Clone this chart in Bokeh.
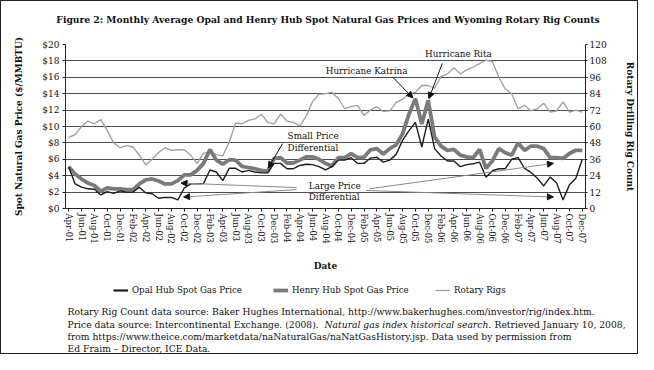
from bokeh.plotting import figure
from bokeh.layouts import column
from bokeh.models import (Range1d, LinearAxis, FixedTicker, Legend, LegendItem,
                          Label, Arrow, NormalHead, PrintfTickFormatter, ColumnDataSource)
from bokeh.embed import file_html
from bokeh.resources import INLINE

# ---------------- data ----------------
month_names = ["Jan", "Feb", "Mar", "Apr", "May", "Jun", "Jul", "Aug", "Sep", "Oct", "Nov", "Dec"]
months = [f"{month_names[m]}-{y:02d}" for y in range(1, 8) for m in range(12) if not (y == 1 and m < 3)]

opal = [5.1, 3.0, 2.6, 2.4, 2.35, 1.65, 2.05, 1.85, 2.15, 2.0, 2.0, 2.6,
        1.9, 1.8, 1.25, 1.35, 1.35, 1.05, 2.5, 3.0, 3.0, 3.05, 4.7, 4.45,
        3.4, 4.9, 4.9, 4.45, 4.65, 4.45, 4.35, 4.35, 5.5, 5.5, 4.85, 4.85,
        5.25, 5.4, 5.35, 5.1, 4.7, 5.1, 5.9, 5.9, 6.2, 5.5, 5.5, 6.15,
        6.25, 5.65, 5.9, 6.6, 8.3, 9.5, 10.5, 7.5, 10.9, 7.3, 6.4, 5.8,
        5.8, 5.1, 5.35, 5.45, 5.65, 3.8, 4.6, 4.85, 4.85, 6.0, 6.2, 4.9,
        4.4, 3.7, 2.75, 3.85, 3.1, 1.05, 2.9, 3.7, 6.0]

henry = [5.1, 4.2, 3.6, 3.1, 2.8, 2.1, 2.5, 2.4, 2.4, 2.3, 2.3, 3.0,
         3.5, 3.6, 3.35, 3.0, 3.0, 3.4, 4.1, 4.1, 4.65, 5.5, 7.2, 5.9,
         5.4, 5.95, 5.9, 5.15, 5.0, 4.85, 4.65, 4.55, 6.1, 6.2, 5.55, 5.55,
         5.9, 6.3, 6.3, 6.0, 5.5, 5.2, 6.2, 6.2, 6.7, 6.2, 6.25, 7.15,
         7.3, 6.65, 7.3, 7.75, 9.1, 11.5, 13.4, 10.3, 13.2, 8.7, 7.6, 7.1,
         7.2, 6.5, 6.3, 6.2, 7.2, 4.9, 5.8, 7.3, 6.8, 6.5, 8.0, 7.1,
         7.6, 7.6, 7.3, 6.2, 6.2, 6.1, 6.7, 7.1, 7.1]

rigs = [52, 54, 60, 64, 62, 65, 57, 48, 44.5, 46, 45, 39,
        32, 36, 41, 44.5, 42.5, 43, 43, 39, 33, 40.5, 41, 39.5,
        38.5, 48.5, 62.5, 62, 64.5, 65.5, 69, 63, 62, 69, 64, 63,
        60.5, 67.5, 78.5, 83.5, 84, 85, 80.5, 73, 74.5, 75.5, 68, 72,
        74.5, 71, 71.5, 77.5, 80, 84, 85, 90, 90, 88, 96.5, 98.5,
        103, 98.5, 101.5, 103.5, 106, 108.5, 107.5, 96, 87.5, 84, 73, 75.5,
        71.5, 73, 77, 70.5, 71.5, 78, 70.5, 72, 70.5]

price_ticks = [0, 2, 4, 6, 8, 10, 12, 14, 16, 18, 20]
rig_ticks = [0, 12, 24, 36, 48, 60, 72, 84, 96, 108, 120]

idx = list(range(len(months)))
src = ColumnDataSource(dict(x=idx, opal=opal, henry=henry, rigs=rigs))

FONT = "DejaVu Serif"
W = 636
HEAD_H, MAIN_H, FOOT_H = 30, 244, 78

OPAL_STYLE = dict(line_color="#1c1c1c", line_width=1.4)
HENRY_STYLE = dict(line_color="#7a7a7a", line_width=3.8)
RIGS_STYLE = dict(line_color="#9e9e9e", line_width=1.3)


def no_align(f):
    if "frame_align" in f.properties():
        f.frame_align = False
    return f


def blank(h):
    f = figure(width=W, height=h, output_backend="svg", toolbar_location=None,
               x_range=Range1d(0, W), y_range=Range1d(0, h),
               x_axis_type=None, y_axis_type=None, min_border=0)
    f.outline_line_color = None
    f.grid.visible = False
    return no_align(f)


# ---------------- header (title) ----------------
head = blank(HEAD_H)
head.add_layout(Label(x=326.5, y=12,
                      text="Figure 2: Monthly Average Opal and Henry Hub Spot Natural Gas Prices and Wyoming Rotary Rig Counts",
                      text_font=FONT, text_font_size="9.2px", text_font_style="bold",
                      text_align="center", text_baseline="middle", text_color="#111"))

# ---------------- main chart ----------------
p = figure(width=W, height=MAIN_H, output_backend="svg", toolbar_location=None,
           x_range=Range1d(-0.5, len(months) - 0.5), y_range=Range1d(0, 20),
           min_border_left=64, min_border_right=48, min_border_top=13, min_border_bottom=67)
no_align(p)
p.outline_line_color = None
p.extra_y_ranges = {"rigs": Range1d(0, 120)}

p.xgrid.visible = False
p.ygrid.ticker = FixedTicker(ticks=price_ticks)
p.ygrid.grid_line_color = "#4d4d4d"

ya = p.yaxis[0]
ya.ticker = FixedTicker(ticks=price_ticks)
ya.formatter = PrintfTickFormatter(format="$%d")
ya.axis_label = "Spot Natural Gas Price ($/MMBTU)"
ya.major_tick_out = 3
ya.major_label_standoff = 3
ya.axis_label_standoff = 15

ra = LinearAxis(y_range_name="rigs", ticker=FixedTicker(ticks=rig_ticks),
                axis_label="Rotary Drilling Rig Count")
ra.major_tick_out = 2
ra.major_label_standoff = 2
ra.axis_label_standoff = 15
p.add_layout(ra, "right")

xa = p.xaxis[0]
xa.ticker = FixedTicker(ticks=idx[::2])
xa.major_label_overrides = {i: months[i] for i in idx[::2]}
xa.major_label_orientation = "vertical"
xa.axis_label = "Date"
xa.major_tick_out = 3
xa.major_label_standoff = 2
xa.axis_label_standoff = 14

for ax in (ya, ra, xa):
    ax.minor_tick_line_color = None
    ax.major_tick_in = 0
    ax.axis_line_color = "#222"
    ax.major_tick_line_color = "#222"
    ax.major_label_text_font = FONT
    ax.major_label_text_font_size = "9px"
    ax.major_label_text_color = "#111"
    ax.axis_label_text_font = FONT
    ax.axis_label_text_font_size = "9px"
    ax.axis_label_text_font_style = "bold"
    ax.axis_label_text_color = "#111"
xa.major_label_text_font_size = "8.4px"

p.line("x", "rigs", source=src, y_range_name="rigs", **RIGS_STYLE)
p.line("x", "henry", source=src, **HENRY_STYLE)
p.line("x", "opal", source=src, **OPAL_STYLE)


def txt(x, y, s, align="left"):
    p.add_layout(Label(x=x, y=y, text=s, text_font=FONT, text_font_size="8.8px",
                       text_align=align, text_baseline="middle", text_color="#111"))


def arrow(x0, y0, x1, y1, color="#111"):
    p.add_layout(Arrow(x_start=x0, y_start=y0, x_end=x1, y_end=y1, line_color=color, line_width=1,
                       end=NormalHead(size=6, fill_color="#111", line_color="#111")))


txt(46.4, 16.8, "Hurricane Katrina", "center")
arrow(50.5, 16.0, 53.6, henry[54] + 0.1)
txt(60.7, 18.9, "Hurricane Rita", "center")
arrow(58.2, 17.7, 56.1, henry[56] + 0.2)

txt(34.1, 8.8, "Small Price")
txt(34.1, 7.4, "Differential")
arrow(33.3, 7.9, 31.1, henry[31] + 0.4)

txt(37.4, 2.8, "Large Price")
txt(37.4, 1.45, "Differential")
arrow(35.5, 2.55, 17.5, 3.1, "#8a8a8a")
arrow(35.5, 2.3, 17.9, 1.4, "#8a8a8a")
arrow(46.8, 2.4, 75.5, 5.5, "#8a8a8a")
arrow(46.3, 2.2, 75.5, 1.4, "#8a8a8a")

# ---------------- footer (legend + sources) ----------------
foot = blank(FOOT_H)
nan = float("nan")
# legend keys: invisible renderers carrying the series' line styles
k_opal = foot.line(x=[nan], y=[nan], line_color="#1c1c1c", line_width=2.2)
k_henry = foot.line(x=[nan], y=[nan], **HENRY_STYLE)
k_rigs = foot.line(x=[nan], y=[nan], **RIGS_STYLE)
for r, name, lx in ((k_opal, "Opal Hub Spot Gas Price", 112),
                    (k_henry, "Henry Hub Spot Gas Price", 272),
                    (k_rigs, "Rotary Rigs", 434)):
    foot.add_layout(Legend(items=[LegendItem(label=name, renderers=[r])], location=(lx, 57),
                           orientation="horizontal", padding=0, margin=0, border_line_color=None,
                           background_fill_alpha=0, glyph_width=15, glyph_height=12, label_standoff=4,
                           label_text_font=FONT, label_text_font_size="8.7px", label_height=12,
                           label_text_color="#111"))

fk = dict(text_font=FONT, text_font_size="9.2px", text_baseline="middle", text_color="#111")
foot.add_layout(Label(x=66, y=42, text="Rotary Rig Count data source: Baker Hughes International, http://www.bakerhughes.com/investor/rig/index.htm.", **fk))
foot.add_layout(Label(x=66, y=29.5, text="Price data source: Intercontinental Exchange. (2008).", **fk))
foot.add_layout(Label(x=323, y=29.5, text="Natural gas index historical search.", text_font_style="italic", **fk))
foot.add_layout(Label(x=493, y=29.5, text="Retrieved January 10, 2008,", **fk))
foot.add_layout(Label(x=66, y=17, text="from https://www.theice.com/marketdata/naNaturalGas/naNatGasHistory.jsp. Data used by permission from", **fk))
foot.add_layout(Label(x=66, y=5, text="Ed Fraim \u2013 Director, ICE Data.", **fk))

page = column(head, p, foot, spacing=0)
page.styles = {"border": "1px solid #222"}

open("out.html", "w").write(file_html(page, INLINE))
